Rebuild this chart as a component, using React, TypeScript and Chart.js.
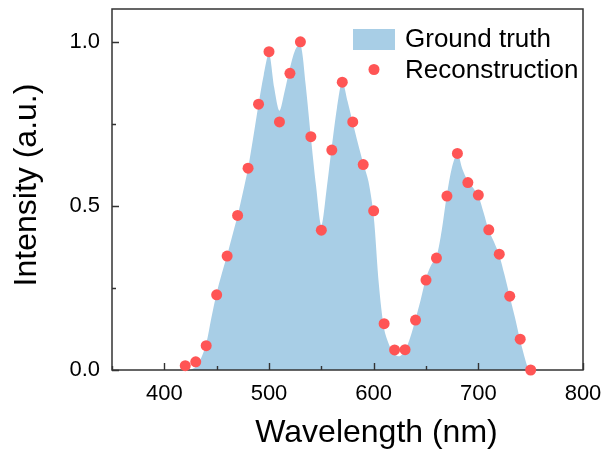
import { useEffect, useRef } from "react";
import { Chart, registerables } from "chart.js";

Chart.register(...registerables);

// Ground truth spectrum (nm, a.u.)
const gtWavelength = [
  425, 430, 435, 440, 445, 450, 455, 460, 465, 470, 475, 480, 485, 490, 495, 500,
  505, 510, 515, 520, 525, 530, 535, 540, 545, 550, 555, 560, 565, 570, 575, 580,
  585, 590, 595, 600, 605, 610, 615, 620, 625, 630, 635, 640, 645, 650, 655, 660,
  665, 670, 675, 680, 685, 690, 695, 700, 705, 710, 715, 720, 725, 730, 735, 740,
  745, 748,
];
const gtIntensity = [
  0.0, 0.01, 0.035, 0.08, 0.16, 0.235, 0.295, 0.35, 0.41, 0.47, 0.54, 0.615, 0.71, 0.81, 0.9, 0.965,
  0.86, 0.79, 0.85, 0.92, 0.975, 0.995, 0.87, 0.71, 0.56, 0.44, 0.55, 0.68, 0.8, 0.88, 0.82, 0.755,
  0.69, 0.63, 0.575, 0.47, 0.26, 0.125, 0.075, 0.048, 0.042, 0.06, 0.1, 0.155, 0.215, 0.28, 0.32, 0.345,
  0.425, 0.535, 0.62, 0.66, 0.61, 0.575, 0.555, 0.53, 0.48, 0.425, 0.39, 0.35, 0.29, 0.225, 0.16, 0.09,
  0.03, 0.0,
];

// Reconstruction (nm, a.u.)
const recWavelength = [
  420, 430, 440, 450, 460, 470, 480, 490, 500, 510, 520, 530, 540, 550, 560, 570, 580,
  590, 600, 610, 620, 630, 640, 650, 660, 670, 680, 690, 700, 710, 720, 730, 740, 750,
];
const recIntensity = [
  0.013, 0.025, 0.074, 0.229, 0.347, 0.471, 0.615, 0.81, 0.97, 0.756, 0.904, 1.0, 0.711, 0.426, 0.67, 0.877, 0.756,
  0.626, 0.485, 0.141, 0.061, 0.062, 0.152, 0.274, 0.341, 0.53, 0.66, 0.571, 0.533, 0.427, 0.353, 0.225, 0.094, 0.0,
];

const xTickValues = [350, 400, 450, 500, 550, 600, 650, 700, 750, 800];
const xLabelValues = [400, 500, 600, 700, 800];
const yTickValues = [0, 0.25, 0.5, 0.75, 1.0];
const yLabelValues = [0, 0.5, 1.0];
const legendLabels = ["Ground truth", "Reconstruction"];
const xTitle = "Wavelength (nm)";
const yTitle = "Intensity (a.u.)";

const FILL = "rgb(168, 206, 230)";
const DOT = "#FF5555";
const FRAME = "#333333";
const FONT = 'Arial, "Liberation Sans", sans-serif';

const decorPlugin = {
  id: "decor",
  afterDatasetDraw(chart: any, args: any) {
    if (args.index !== 0) return;
    const { ctx, chartArea } = chart;
    const { left, right, top, bottom } = chartArea;
    const xs = chart.scales.x;
    const ys = chart.scales.y;
    ctx.save();
    ctx.strokeStyle = FRAME;
    ctx.lineWidth = 1.5;
    ctx.strokeRect(left, top, right - left, bottom - top);
    ctx.lineWidth = 1.4;
    ctx.beginPath();
    for (const v of xTickValues) {
      const px = Math.round(xs.getPixelForValue(v)) + 0.5;
      const len = xLabelValues.includes(v) ? 7 : 4;
      ctx.moveTo(px, bottom);
      ctx.lineTo(px, bottom - len);
    }
    for (const v of yTickValues) {
      const py = Math.round(ys.getPixelForValue(v)) + 0.5;
      const len = yLabelValues.includes(v) ? 7 : 4;
      ctx.moveTo(left, py);
      ctx.lineTo(left + len, py);
    }
    ctx.stroke();
    ctx.restore();
  },
  afterDraw(chart: any) {
    const { ctx } = chart;
    ctx.save();
    ctx.fillStyle = "#000";
    // x title
    ctx.font = `32px ${FONT}`;
    ctx.textAlign = "center";
    ctx.textBaseline = "alphabetic";
    ctx.fillText(xTitle, 376.5, 442);
    // y title
    ctx.save();
    ctx.translate(36, 185);
    ctx.rotate(-Math.PI / 2);
    ctx.font = `32px ${FONT}`;
    ctx.textAlign = "center";
    ctx.textBaseline = "alphabetic";
    ctx.fillText(yTitle, 0, 0);
    ctx.restore();
    // legend
    ctx.fillStyle = FILL;
    ctx.fillRect(353, 29, 42, 21);
    ctx.fillStyle = DOT;
    ctx.beginPath();
    ctx.arc(374, 69.5, 5.5, 0, Math.PI * 2);
    ctx.fill();
    ctx.fillStyle = "#000";
    ctx.font = `26px ${FONT}`;
    ctx.textAlign = "left";
    ctx.fillText(legendLabels[0], 405, 46.5);
    ctx.fillText(legendLabels[1], 405, 78);
    ctx.restore();
  },
};

export default function App() {
  const ref = useRef<HTMLCanvasElement | null>(null);
  useEffect(() => {
    if (!ref.current) return;
    const chart = new Chart(ref.current, {
      type: "line",
      data: {
        datasets: [
          {
            type: "line",
            label: legendLabels[0],
            data: gtWavelength.map((w, i) => ({ x: w, y: gtIntensity[i] })),
            backgroundColor: FILL,
            borderColor: FILL,
            borderWidth: 0,
            fill: "origin",
            pointRadius: 0,
            tension: 0.3,
            order: 2,
          },
          {
            type: "scatter",
            label: legendLabels[1],
            data: recWavelength.map((w, i) => ({ x: w, y: recIntensity[i] })),
            backgroundColor: DOT,
            borderWidth: 0,
            pointRadius: 5.5,
            pointBackgroundColor: DOT,
            clip: false,
            order: 1,
          } as any,
        ],
      },
      options: {
        responsive: false,
        animation: false,
        layout: { padding: { top: 9, right: 26, left: 0, bottom: 0 } },
        plugins: { legend: { display: false }, tooltip: { enabled: false } },
        scales: {
          x: {
            type: "linear",
            min: 350,
            max: 800,
            grid: { display: false, drawTicks: false },
            border: { display: false },
            afterBuildTicks: (s: any) => {
              s.ticks = xTickValues.map((v) => ({ value: v }));
            },
            afterFit: (s: any) => {
              s.height = 86;
              s.paddingLeft = 0;
              s.paddingRight = 0;
            },
            ticks: {
              autoSkip: false,
              maxRotation: 0,
              padding: 11,
              color: "#000",
              font: { size: 22, family: FONT },
              callback: (v: any) => (xLabelValues.includes(Number(v)) ? String(v) : ""),
            },
          },
          y: {
            type: "linear",
            min: 0,
            max: 1.1,
            grid: { display: false, drawTicks: false },
            border: { display: false },
            afterBuildTicks: (s: any) => {
              s.ticks = yTickValues.map((v) => ({ value: v }));
            },
            afterFit: (s: any) => {
              s.width = 112;
              s.paddingTop = 0;
              s.paddingBottom = 0;
            },
            ticks: {
              autoSkip: false,
              padding: 12,
              color: "#000",
              font: { size: 22, family: FONT },
              callback: (v: any) =>
                yLabelValues.includes(Number(v)) ? Number(v).toFixed(1) : "",
            },
          },
        },
      },
      plugins: [decorPlugin],
    });
    return () => chart.destroy();
  }, []);
  return (
    <div style={{ position: "absolute", left: 0, top: 0, width: 609, height: 456, background: "#fff" }}>
      <canvas ref={ref} width={609} height={456} />
    </div>
  );
}
